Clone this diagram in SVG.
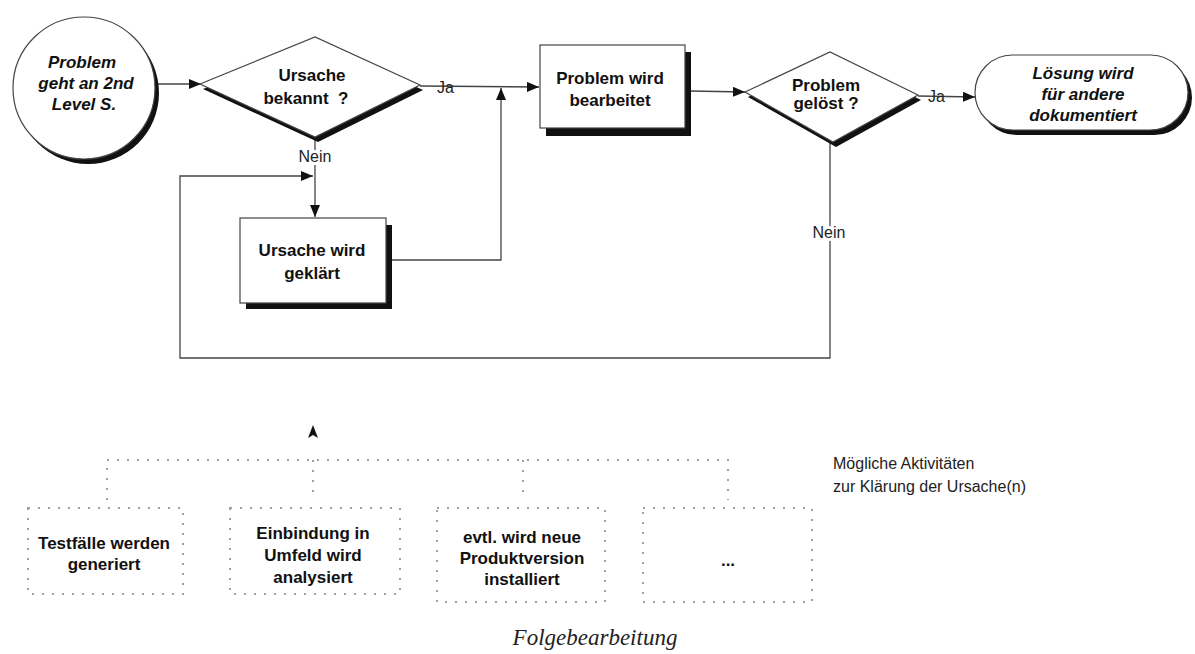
<svg xmlns="http://www.w3.org/2000/svg" width="1195" height="654" viewBox="0 0 1195 654">
<defs>
<style>
.bg{fill:#fff}
.sh{fill:#111}
.nd{fill:#fff;stroke:#444;stroke-width:1.2}
.t{font-family:"Liberation Sans",Arial,sans-serif;font-weight:bold;font-size:17px;fill:#111;text-anchor:middle}
.ti{font-style:italic}
.lb{font-family:"Liberation Sans",Arial,sans-serif;font-size:16px;fill:#222}
.ln{fill:none;stroke:#444;stroke-width:1.3}
.dot{fill:none;stroke:#a0a0a0;stroke-width:2;stroke-dasharray:2 8}
.halo{paint-order:stroke;stroke:#fff;stroke-width:6}
</style>
<marker id="ah" viewBox="0 0 12 10" refX="12" refY="5" markerWidth="12" markerHeight="10" markerUnits="userSpaceOnUse" orient="auto">
<path d="M0,0 L12,5 L0,10 Z" fill="#111"/>
</marker>
</defs>
<rect class="bg" x="0" y="0" width="1195" height="654"/>

<g id="connectors">
<line class="ln" x1="157" y1="84" x2="201" y2="84" marker-end="url(#ah)"/>
<line class="ln" x1="420" y1="86" x2="539" y2="87" marker-end="url(#ah)"/>
<line class="ln" x1="315" y1="138" x2="315" y2="217" marker-end="url(#ah)"/>
<polyline class="ln" points="392,260 501,260 501,88" marker-end="url(#ah)"/>
<line class="ln" x1="690" y1="91" x2="745" y2="92" marker-end="url(#ah)"/>
<line class="ln" x1="918" y1="96" x2="975" y2="97" marker-end="url(#ah)"/>
<polyline class="ln" points="830,142 830,358 180,358 180,176 313,176" marker-end="url(#ah)"/>
<path d="M313,425 L318,438 L313,435 L308,438 Z" fill="#111"/>
<polyline class="dot" points="107,500 107,460 728,460 728,500"/>
<line class="dot" x1="313" y1="460" x2="313" y2="500"/>
<line class="dot" x1="523" y1="460" x2="523" y2="500"/>
<text class="lb" x="437" y="93">Ja</text>
<text class="lb" x="928" y="102">Ja</text>
<text class="lb halo" x="315" y="162" text-anchor="middle">Nein</text>
<text class="lb halo" x="829" y="238" text-anchor="middle">Nein</text>
</g>

<g id="start">
<circle class="sh" cx="88" cy="93" r="71"/>
<circle class="nd" cx="84" cy="88" r="71"/>
<text class="t ti" x="82" y="68">Problem</text>
<text class="t ti" x="86" y="89">geht an 2nd</text>
<text class="t ti" x="84" y="110">Level S.</text>
</g>

<g id="ursache-bekannt">
<polygon class="sh" points="203,89 318,42 423,90 318,142"/>
<polygon class="nd" points="200,84 315,37 420,85 315,137"/>
<text class="t" x="312" y="81">Ursache</text>
<text class="t" x="306" y="104" xml:space="preserve">bekannt  ?</text>
</g>

<g id="problem-bearbeitet">
<rect class="sh" x="546" y="52" width="145" height="84"/>
<rect class="nd" x="540" y="45" width="145" height="83"/>
<text class="t" x="610" y="84">Problem wird</text>
<text class="t" x="610" y="106">bearbeitet</text>
</g>

<g id="problem-geloest">
<polygon class="sh" points="748,97 833,57 921,100 836,147"/>
<polygon class="nd" points="745,92 830,52 918,95 833,142"/>
<text class="t" x="826" y="91">Problem</text>
<text class="t" x="826" y="109">gelöst ?</text>
</g>

<g id="loesung-dokumentiert">
<rect class="sh" x="979" y="60" width="213" height="75" rx="37.5"/>
<rect class="nd" x="975" y="55" width="213" height="75" rx="37.5"/>
<text class="t ti" x="1083" y="79">Lösung wird</text>
<text class="t ti" x="1083" y="100">für andere</text>
<text class="t ti" x="1083" y="121">dokumentiert</text>
</g>

<g id="ursache-geklaert">
<rect class="sh" x="246" y="225" width="146" height="84"/>
<rect class="nd" x="240" y="218" width="146" height="85"/>
<text class="t" x="312" y="256">Ursache wird</text>
<text class="t" x="312" y="279">geklärt</text>
</g>

<g id="testfaelle">
<rect class="dot" x="28" y="508" width="155" height="86"/>
<text class="t" x="104" y="549">Testfälle werden</text>
<text class="t" x="104" y="570">generiert</text>
</g>

<g id="einbindung">
<rect class="dot" x="230" y="508" width="170" height="86"/>
<text class="t" x="313" y="539">Einbindung in</text>
<text class="t" x="313" y="561">Umfeld wird</text>
<text class="t" x="313" y="583">analysiert</text>
</g>

<g id="produktversion">
<rect class="dot" x="437" y="508" width="168" height="94"/>
<text class="t" x="522" y="543">evtl. wird neue</text>
<text class="t" x="522" y="564">Produktversion</text>
<text class="t" x="522" y="585">installiert</text>
</g>

<g id="weitere">
<rect class="dot" x="643" y="508" width="169" height="94"/>
<text class="t" x="728" y="566">...</text>
</g>

<g id="legende">
<text class="lb" x="833" y="469" font-size="17">Mögliche Aktivitäten</text>
<text class="lb" x="833" y="492" font-size="17">zur Klärung der Ursache(n)</text>
</g>

<text x="595" y="645" text-anchor="middle" font-family="'Liberation Serif','Times New Roman',serif" font-style="italic" font-size="23" fill="#222">Folgebearbeitung</text>
</svg>
